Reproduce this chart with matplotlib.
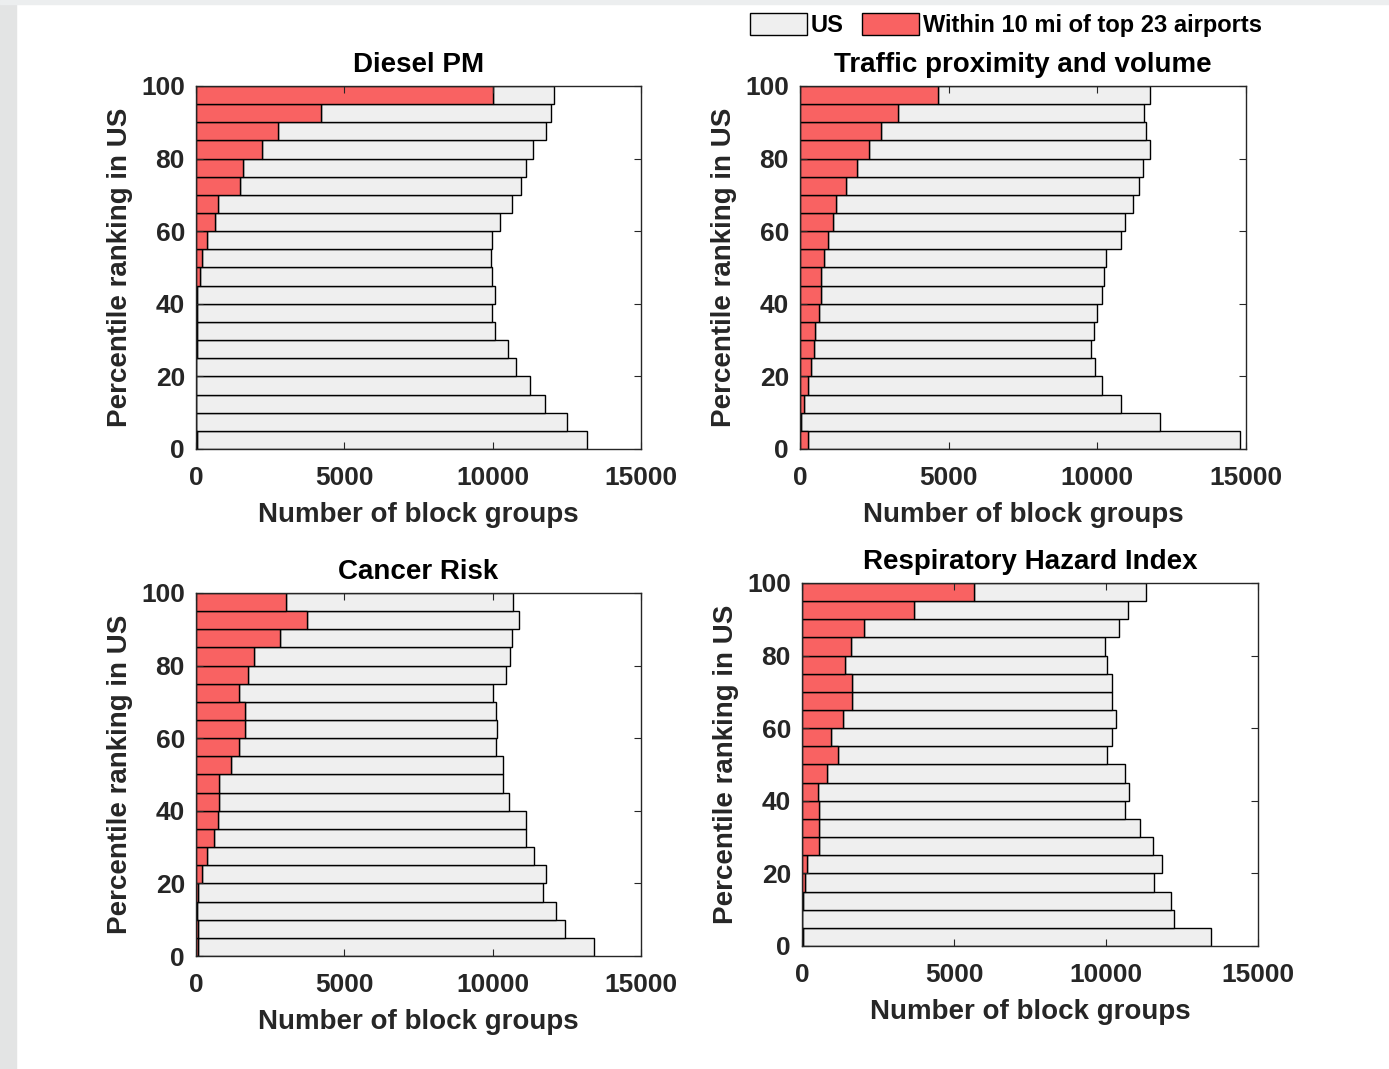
import numpy as np
import matplotlib.pyplot as plt
from matplotlib.patches import Rectangle

plt.rcParams['font.family'] = ['Liberation Sans', 'DejaVu Sans']
plt.rcParams['font.weight'] = 'bold'
plt.rcParams['axes.labelweight'] = 'bold'

# percentile bins 0-5 ... 95-100 (bottom to top)
bins = np.arange(0, 100, 5)

titles = ['Diesel PM', 'Traffic proximity and volume',
          'Cancer Risk', 'Respiratory Hazard Index']

# number of US block groups in each bin (values listed top bin first, reversed below)
us_diesel = [12075, 11975, 11800, 11360, 11125, 10940, 10650, 10260, 9975, 9940,
             9975, 10075, 9975, 10075, 10510, 10800, 11260, 11750, 12510, 13190][::-1]
us_traffic = [11780, 11580, 11640, 11780, 11530, 11390, 11210, 10930, 10780, 10280,
              10210, 10160, 9970, 9870, 9780, 9930, 10160, 10780, 12110, 14780][::-1]
us_cancer = [10690, 10890, 10640, 10600, 10460, 10025, 10110, 10160, 10110, 10360,
             10360, 10550, 11110, 11125, 11400, 11800, 11690, 12125, 12450, 13410][::-1]
us_resp = [11310, 10710, 10430, 9980, 10040, 10190, 10190, 10330, 10190, 10040,
           10610, 10750, 10610, 11110, 11530, 11850, 11570, 12130, 12230, 13440][::-1]

# block groups within 10 mi of the top 23 airports
near_diesel = [10025, 4210, 2750, 2210, 1600, 1500, 740, 650, 360, 210,
               125, 40, 40, 40, 30, 0, 0, 0, 0, 40][::-1]
near_traffic = [4650, 3280, 2710, 2320, 1900, 1560, 1220, 1120, 940, 800,
                710, 710, 650, 510, 460, 360, 275, 140, 20, 275][::-1]
near_cancer = [3040, 3750, 2840, 1940, 1740, 1460, 1650, 1650, 1460, 1175,
               790, 790, 740, 600, 360, 210, 75, 25, 75, 75][::-1]
near_resp = [5650, 3700, 2030, 1620, 1420, 1655, 1655, 1340, 970, 1200,
             830, 510, 560, 560, 560, 170, 85, 36, 0, 30][::-1]

us_all = [us_diesel, us_traffic, us_cancer, us_resp]
near_all = [near_diesel, near_traffic, near_cancer, near_resp]

gray = '#efefef'
red = '#f96262'
ink = '#262626'

fig = plt.figure(figsize=(13.89, 10.69), dpi=100)
# strip of the background photo on the left / top edge
fig.patches.append(Rectangle((0, 0), 16 / 1389, 1, transform=fig.transFigure,
                             color='#e3e4e4', zorder=-10))
fig.patches.append(Rectangle((0, 1 - 4 / 1069), 1, 4 / 1069, transform=fig.transFigure,
                             color='#eceeef', zorder=-10))

positions = [[0.1411, 0.5800, 0.3204, 0.3396],
             [0.5760, 0.5800, 0.3211, 0.3396],
             [0.1411, 0.1057, 0.3204, 0.3396],
             [0.5774, 0.1151, 0.3283, 0.3396]]

for i in range(4):
    ax = fig.add_axes(positions[i])
    us = np.array(us_all[i])
    near = np.array(near_all[i])
    h_us = ax.barh(bins + 2.5, us - near, left=near, height=5, color=gray,
                   edgecolor='black', linewidth=1.0, label='US')
    h_near = ax.barh(bins + 2.5, near, height=5, color=red,
                     edgecolor='black', linewidth=1.0,
                     label='Within 10 mi of top 23 airports')
    ax.set_xlim(0, 15000)
    ax.set_ylim(0, 100)
    ax.set_xticks([0, 5000, 10000, 15000])
    ax.set_yticks([0, 20, 40, 60, 80, 100])
    ax.tick_params(direction='in', top=True, right=True, length=5,
                   labelsize=19, colors=ink, pad=8)
    ax.tick_params(axis='x', pad=12)
    for s in ax.spines.values():
        s.set_color(ink)
        s.set_linewidth(1.0)
    ax.set_title(titles[i], fontsize=20, fontweight='bold', pad=10)
    ax.set_xlabel('Number of block groups', fontsize=20, color=ink, labelpad=9)
    ax.set_ylabel('Percentile ranking in US', fontsize=20, color=ink, labelpad=6)

fig.legend([h_us, h_near], ['US', 'Within 10 mi of top 23 airports'],
           loc='center', bbox_to_anchor=(1006 / 1389, 1 - 25 / 1069), ncol=2,
           frameon=False, fontsize=17, handlelength=2.4, handleheight=1.1,
           handletextpad=0.15, columnspacing=0.8, borderpad=0)

fig.savefig('out.png', dpi=100)
